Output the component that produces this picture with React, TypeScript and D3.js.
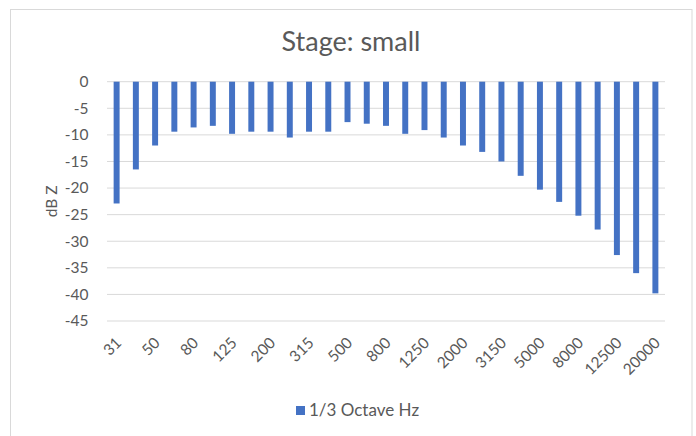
import React, { useRef, useEffect } from 'react';
import * as d3 from 'd3';

const bands = [
  '31', '40', '50', '63', '80', '100', '125', '160', '200', '250',
  '315', '400', '500', '630', '800', '1000', '1250', '1600', '2000', '2500',
  '3150', '4000', '5000', '6300', '8000', '10000', '12500', '16000', '20000',
];
const levels = [
  -22.9, -16.5, -12.0, -9.4, -8.6, -8.3, -9.8, -9.4, -9.4, -10.5,
  -9.4, -9.4, -7.6, -7.9, -8.3, -9.8, -9.1, -10.5, -12.0, -13.2,
  -15.0, -17.7, -20.3, -22.6, -25.2, -27.8, -32.6, -36.0, -39.8,
];
const yTicks = [0, -5, -10, -15, -20, -25, -30, -35, -40, -45];

const seriesName = '1/3 Octave Hz';
const title = 'Stage: small';

const App = () => {
  const ref = useRef(null);

  useEffect(() => {
    if (!ref.current) return;
    const svg = d3.select(ref.current);
    svg.selectAll('*').remove();

    const font = 'Lato, "Open Sans", sans-serif';
    const grey = '#595959';
    const left = 107;
    const right = 665;
    const top = 81.7;
    const bottom = 321;

    // chart border
    svg.append('rect')
      .attr('x', 10.5).attr('y', 9.5)
      .attr('width', 681.5).attr('height', 440)
      .attr('fill', '#fff').attr('stroke', '#d9d9d9').attr('stroke-width', 1);

    svg.append('text')
      .attr('x', 351).attr('y', 51)
      .attr('text-anchor', 'middle')
      .attr('font-family', font).attr('font-size', 27)
      .attr('fill', grey)
      .text(title);

    const x = d3.scaleBand().domain(bands).range([left, right])
      .paddingInner(0.69).paddingOuter(0.345);
    const y = d3.scaleLinear().domain([0, -45]).range([top, bottom]);

    // gridlines
    svg.append('g').selectAll('line').data(yTicks).join('line')
      .attr('x1', left).attr('x2', right)
      .attr('y1', (d) => y(d)).attr('y2', (d) => y(d))
      .attr('stroke', '#d9d9d9').attr('stroke-width', 1);

    // y tick labels
    svg.append('g').selectAll('text').data(yTicks).join('text')
      .attr('x', 88.5).attr('y', (d) => y(d))
      .attr('dy', '0.35em')
      .attr('text-anchor', 'end')
      .attr('font-family', font).attr('font-size', 15.5)
      .attr('fill', grey)
      .text((d) => d);

    svg.append('text')
      .attr('transform', `translate(57, ${(top + bottom) / 2}) rotate(-90)`)
      .attr('text-anchor', 'middle')
      .attr('font-family', font).attr('font-size', 15.5)
      .attr('fill', grey)
      .text('dB Z');

    // bars
    svg.append('g').selectAll('rect').data(levels).join('rect')
      .attr('x', (d, i) => x(bands[i]))
      .attr('y', y(0))
      .attr('width', x.bandwidth())
      .attr('height', (d) => y(d) - y(0))
      .attr('fill', '#4472c4');

    // x labels, every other band
    svg.append('g').selectAll('text')
      .data(bands.filter((b, i) => i % 2 === 0)).join('text')
      .attr('transform', (d) => `translate(${x(d) + x.bandwidth() / 2 + 2}, ${bottom + 19}) rotate(-45)`)
      .attr('text-anchor', 'end')
      .attr('dy', '0.35em')
      .attr('font-family', font).attr('font-size', 15.5)
      .attr('fill', grey)
      .text((d) => d);

    // legend
    svg.append('rect')
      .attr('x', 296).attr('y', 406).attr('width', 9).attr('height', 9)
      .attr('fill', '#4472c4');
    svg.append('text')
      .attr('x', 309).attr('y', 410.5)
      .attr('dy', '0.35em')
      .attr('font-family', font).attr('font-size', 17)
      .attr('fill', grey)
      .text(seriesName);
  }, []);

  return (
    <svg ref={ref} width={696} height={436} style={{ display: 'block', position: 'absolute', left: 0, top: 0 }} />
  );
};

export default App;
